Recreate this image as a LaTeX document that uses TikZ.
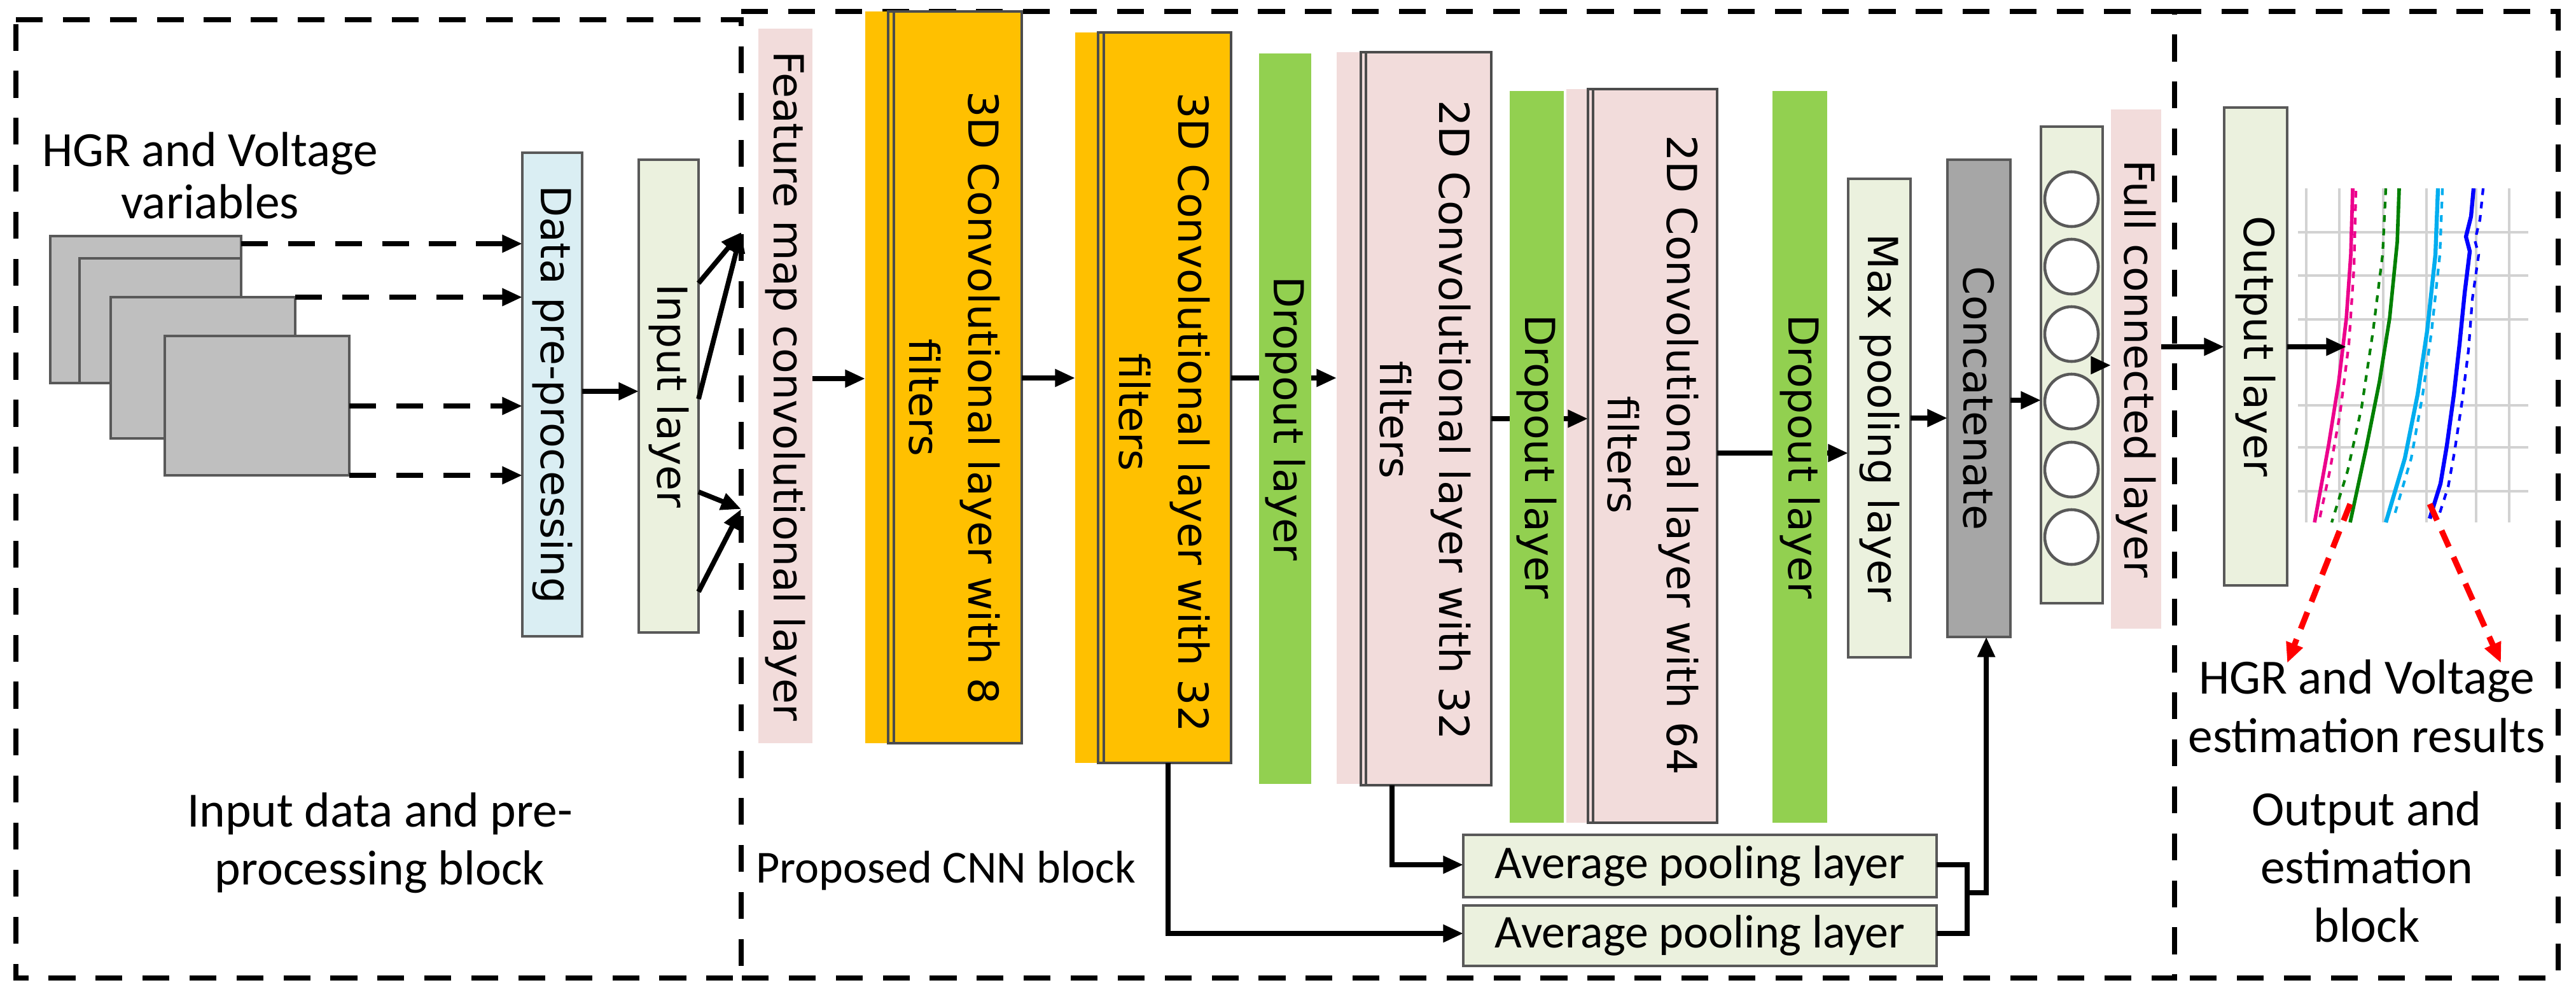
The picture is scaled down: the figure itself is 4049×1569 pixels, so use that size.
\documentclass[tikz,border=0pt]{standalone}
\usepackage{fontspec}
\setmainfont{Carlito}
\newfontfamily\vfont{DejaVu Sans}
\usetikzlibrary{arrows.meta,fit,shapes.geometric}
\definecolor{cOr}{HTML}{FFC000}
\definecolor{cGr}{HTML}{92D050}
\definecolor{cPk}{HTML}{F2DCDB}
\definecolor{cLg}{HTML}{EBF1DE}
\definecolor{cLb}{HTML}{DAEEF3}
\definecolor{cSq}{HTML}{BFBFBF}
\definecolor{cCc}{HTML}{A6A6A6}
\definecolor{cOl}{HTML}{595959}
\tikzset{
  blk/.style={draw=black,line width=2.4pt,dash pattern=on 12pt off 9pt},
  bx/.style={inner sep=0pt,outer sep=0pt},
  ol/.style={bx,draw=cOl,line width=1.3pt},
  vt/.style={font=\vfont\fontsize{18.5}{26.5}\selectfont,rotate=-90,align=center},
  ht/.style={font=\fontsize{22}{26}\selectfont,align=center},
  arr/.style={line width=2.2pt,-{Triangle[length=9pt,width=7.5pt]}},
  darr/.style={arr,dash pattern=on 12pt off 9pt},
  ln/.style={line width=2.2pt},
  grd/.style={draw=gray!35,line width=1pt},
  neu/.style={draw=cOl,line width=1.3pt,fill=white,ellipse,minimum width=0.84cm,minimum height=0.86cm,inner sep=0pt},
}
\begin{document}
\begin{tikzpicture}[x=0.01cm,y=-0.01cm]
\useasboundingbox (0,0) rectangle (4049,1569);
% blocks
\draw[blk] (25,31) -- (1165,31) -- (1165,1537) -- (25,1537) -- cycle;
\draw[blk] (1165,18) -- (3418,18) -- (3418,1537) -- (1165,1537);
\draw[blk] (3418,18) -- (4021,18) -- (4021,1537) -- (3418,1537);
% input squares
\node[ol,fill=cSq,fit={(79,371) (379,602)}] (sq1) {};
\node[ol,fill=cSq,fit={(125,406) (379,602)}] (sq2) {};
\node[ol,fill=cSq,fit={(174,467) (464,689)}] (sq3) {};
\node[ol,fill=cSq,fit={(259,528) (549,747)}] (sq4) {};
\node[ht,font=\fontsize{22}{23.5}\selectfont] (title) at (330,276) {HGR and Voltage\\variables};
% data and input
\node[ol,fill=cLb,fit={(821,240) (915,1000)}] (data) {};
\node[vt] at (data.center) {Data pre-processing};
\node[ol,fill=cLg,fit={(1004,251) (1098,994)}] (inp) {};
\node[vt] at (inp.center) {Input layer};
\draw[darr] (sq1.east |- 0,383) -- (data.west |- 0,383);
\draw[darr] (sq3.north east) -- (data.west |- 0,467);
\draw[darr] (sq4.east |- 0,638) -- (data.west |- 0,638);
\draw[darr] (sq4.south east) -- (data.west |- 0,747);
\draw[arr] (data.east |- 0,615) -- (inp.west |- 0,615);
% feature map
\node[bx,fill=cPk,fit={(1192,45) (1277,1168)}] (fm) {};
\node[vt] at (fm.center) {Feature map convolutional layer};
\coordinate (fmA) at (1165,365);
\coordinate (fmB) at (1165,800);
\draw[arr] (inp.east |- 0,445) -- (fmA);
\draw[arr] (inp.east |- 0,627) -- (fmA);
\draw[arr] (inp.east |- 0,773) -- (fmB);
\draw[arr] (inp.east |- 0,930) -- (fmB);
% 3D conv 8
\node[bx,fill=cOr,fit={(1360,18) (1396,1168)}] (c8b) {};
\node[ol,draw=black!70,fill=cOr,fit={(1396,18) (1606,1168)}] (c8) {};
\draw[black!70,line width=1.2pt] (1405,18) -- (1405,1168);
\node[vt] at (1500,625) {3D Convolutional layer with 8\\filters};
% 3D conv 32
\node[bx,fill=cOr,fit={(1690,51) (1726,1199)}] (c32b) {};
\node[ol,draw=black!70,fill=cOr,fit={(1726,51) (1935,1199)}] (c32) {};
\draw[black!70,line width=1.2pt] (1735,51) -- (1735,1199);
\node[vt] at (1830,648) {3D Convolutional layer with 32\\filters};
\draw[arr] (fm.east |- 0,595) -- (c8b.west |- 0,595);
\draw[arr] (c8.east |- 0,594) -- (c32b.west |- 0,594);
% 2D conv 32 and dropout 1
\node[bx,fill=cPk,fit={(2101,82) (2139,1232)}] (d32b) {};
\node[ol,draw=black!70,fill=cPk,fit={(2139,82) (2344,1234)}] (d32) {};
\draw[black!70,line width=1.2pt] (2147,82) -- (2147,1234);
\node[vt] at (2240,660) {2D Convolutional layer with 32\\filters};
\draw[arr] (c32.east |- 0,594) -- (d32b.west |- 0,594);
\node[bx,fill=cGr,fit={(1979,84) (2061,1232)}] (dr1) {};
\node[vt] at (dr1.center) {Dropout layer};
% 2D conv 64 and dropout 2
\node[bx,fill=cPk,fit={(2462,140) (2496,1293)}] (d64b) {};
\node[ol,draw=black!70,fill=cPk,fit={(2496,140) (2699,1293)}] (d64) {};
\draw[black!70,line width=1.2pt] (2504,140) -- (2504,1293);
\node[vt] at (2598,715) {2D Convolutional layer with 64\\filters};
\draw[arr] (d32.east |- 0,658) -- (d64.west |- 0,658);
\node[bx,fill=cGr,fit={(2373,143) (2458,1293)}] (dr2) {};
\node[vt] at (dr2.center) {Dropout layer};
% dropout 3, max pool
\node[ol,fill=cLg,fit={(2905,281) (3003,1033)}] (mp) {};
\node[vt] at (mp.center) {Max pooling layer};
\draw[arr] (d64.east |- 0,712) -- (mp.west |- 0,712);
\node[bx,fill=cGr,fit={(2786,143) (2872,1293)}] (dr3) {};
\node[vt] at (dr3.center) {Dropout layer};
% concat
\node[ol,fill=cCc,fit={(3061,251) (3160,1001)}] (cc) {};
\node[vt] at (cc.center) {Concatenate};
\draw[arr] (mp.east |- 0,657) -- (cc.west |- 0,657);
% FC neurons
\node[ol,fill=cLg,fit={(3208,199) (3305,948)}] (fcn) {};
\foreach \i/\yy in {1/313,2/419,3/525,4/631,5/738,6/844}
  \node[neu] (n\i) at (3256,\yy) {};
\draw[arr] (cc.east |- 0,629) -- (fcn.west |- 0,629);
\node[bx,fill=cPk,fit={(3318,172) (3397,988)}] (fc) {};
\node[vt] at (fc.center) {Full connected layer};
\draw[arr] (fcn.east |- 0,574) -- (fc.west |- 0,574);
% output layer
\node[ol,fill=cLg,fit={(3496,169) (3595,920)}] (out) {};
\node[vt] at (out.center) {Output layer};
\draw[arr] (fc.east |- 0,545) -- (out.west |- 0,545);
% chart
\node[bx,fit={(3612,296) (3974,821)}] (chart) {};
\foreach \yy in {365,433,502,637,703,772} \draw[grd] (3612,\yy) -- (3974,\yy);
\foreach \xx in {3625,3677,3746,3814,3892,3944} \draw[grd] (\xx,296) -- (\xx,821);
\draw[magenta,line width=1.6pt] (3698,296) -- (3695,400) -- (3688,500) -- (3676,600) -- (3660,700) -- (3638,821);
\draw[magenta,line width=1.2pt,dashed] (3703,300) -- (3700,420) -- (3692,540) -- (3678,650) -- (3662,740) -- (3646,815);
\draw[green!50!black,line width=1.6pt] (3771,296) -- (3768,380) -- (3756,500) -- (3740,600) -- (3720,700) -- (3694,821);
\draw[green!50!black,line width=1.2pt,dashed] (3750,296) -- (3745,400) -- (3730,520) -- (3712,640) -- (3690,740) -- (3665,821);
\draw[cyan,line width=1.8pt] (3832,296) -- (3828,400) -- (3815,520) -- (3800,620) -- (3780,720) -- (3750,821);
\draw[cyan,line width=1.2pt,dashed] (3839,296) -- (3835,400) -- (3822,520) -- (3808,620) -- (3790,720) -- (3762,815);
\draw[blue,line width=1.8pt] (3888,296) -- (3884,340) -- (3876,372) -- (3882,395) -- (3874,460) -- (3866,540) -- (3857,620) -- (3846,700) -- (3836,760) -- (3819,815);
\draw[blue,line width=1.2pt,dashed] (3903,296) -- (3898,345) -- (3890,378) -- (3896,400) -- (3886,470) -- (3880,550) -- (3870,630) -- (3858,710) -- (3848,765) -- (3832,815);
\draw[arr] (out.east |- 0,545) -- (3688,545);
% result text and red arrows
\node[ht] (res) at (3720,1110) {HGR and Voltage\\estimation results};
\coordinate (pA) at (3694,792);
\coordinate (pB) at (3819,792);
\draw[arr,red,line width=2.6pt,dash pattern=on 8pt off 5pt] (pA) -- (3595,1042);
\draw[arr,red,line width=2.6pt,dash pattern=on 8pt off 5pt] (pB) -- (3931,1042);
% average pooling
\node[ol,fill=cLg,fit={(2300,1312) (3044,1410)}] (ap1) {};
\node[ht,font=\fontsize{21}{24}\selectfont] at (ap1.center) {Average pooling layer};
\node[ol,fill=cLg,fit={(2300,1423) (3044,1518)}] (ap2) {};
\node[ht,font=\fontsize{21}{24}\selectfont] at (ap2.center) {Average pooling layer};
\draw[arr] (2188,1234) |- (ap1.west |- 0,1359);
\draw[arr] (1836,1199) |- (ap2.west |- 0,1467);
\draw[ln] (ap1.east |- 0,1359) -| (3092,1467) -- (ap2.east |- 0,1467);
\draw[arr] (3092,1403) -| (3122,1001);
% block labels
\node[ht] at (597,1325) {Input data and pre-\\processing block};
\node[ht,anchor=west,font=\fontsize{20.5}{24}\selectfont] at (1176,1368) {Proposed CNN block};
\node[ht] at (3720,1362) {Output and\\estimation\\block};
\end{tikzpicture}
\end{document}
